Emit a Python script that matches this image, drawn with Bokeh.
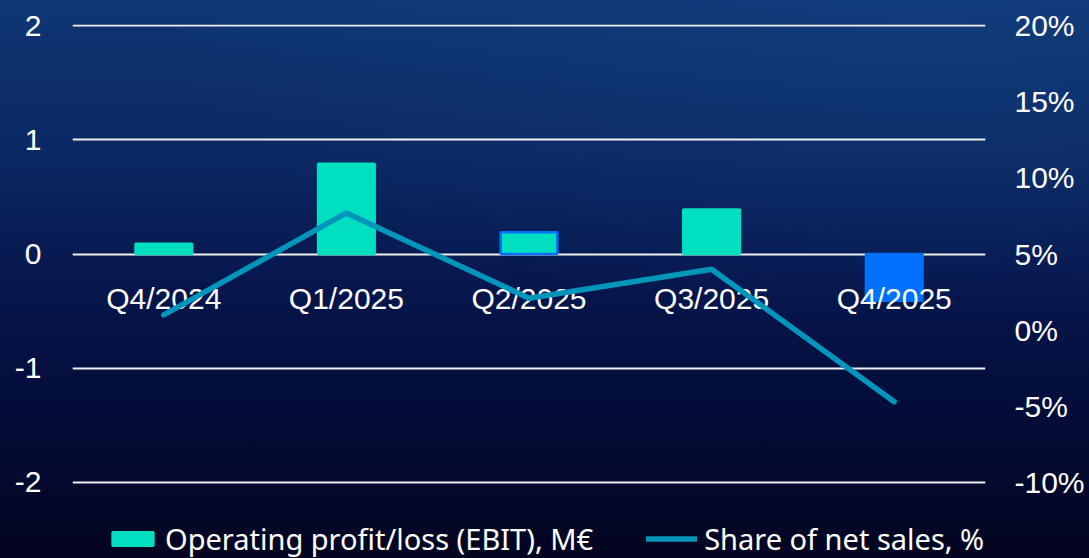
from bokeh.plotting import figure
from bokeh.models import (ColumnDataSource, Range1d, LinearAxis, FixedTicker,
                          CustomJSTickFormatter, Legend, LegendItem)
from bokeh.core.properties import value
from bokeh.embed import file_html
from bokeh.resources import INLINE

# ---- data ----
quarters = ["Q4/2024", "Q1/2025", "Q2/2025", "Q3/2025", "Q4/2025"]
ebit_meur = [0.09, 0.79, 0.19, 0.39, -0.41]
share_pct = [1.0, 7.7, 2.1, 4.0, -4.7]
left_ticks = [-2, -1, 0, 1, 2]
right_ticks = [-10, -5, 0, 5, 10, 15, 20]

TEAL = "#00E0C0"
BLUE = "#0070FF"
LINE = "#0096BC"
bar_fill = [TEAL, TEAL, TEAL, TEAL, BLUE]
bar_edge = [TEAL, TEAL, BLUE, TEAL, BLUE]

src = ColumnDataSource(dict(q=quarters, v=ebit_meur, fill=bar_fill, edge=bar_edge,
                            zero=[0] * len(quarters)))
lsrc = ColumnDataSource(dict(q=quarters, s=share_pct))

TICK_FONT = "Liberation Sans"
TICK_SIZE = "30px"

# the frame runs down to the bottom of the canvas so the legend can sit inside it
Y_LO, Y_HI = -2.666, 2.01
p = figure(x_range=quarters, y_range=Range1d(Y_LO, Y_HI), width=1089, height=558,
           output_backend="svg", toolbar_location=None,
           min_border_left=72, min_border_right=104, min_border_top=24,
           min_border_bottom=0)
p.styles = {"background": "radial-gradient(ellipse 70% 60% at 85% 0%, rgba(22,72,140,0.35), rgba(0,0,0,0)),"
                          "linear-gradient(to bottom, #0f3674 0%, #0b2862 28%, #06164c 52%, #040c38 75%, #030520 100%)"}
p.background_fill_color = None
p.border_fill_color = None
p.outline_line_color = None

p.extra_y_ranges = {"pct": Range1d(5 + 7.5 * Y_LO, 5 + 7.5 * Y_HI)}

# left axis
p.yaxis.ticker = FixedTicker(ticks=left_ticks)
p.yaxis.formatter = CustomJSTickFormatter(code="return String(tick);")
p.yaxis.axis_line_color = None
p.yaxis.major_tick_line_color = None
p.yaxis.minor_tick_line_color = None
p.yaxis.major_label_text_color = "white"
p.yaxis.major_label_text_font = TICK_FONT
p.yaxis.major_label_text_font_size = TICK_SIZE
p.yaxis.major_label_standoff = 25

# right axis
ra = LinearAxis(y_range_name="pct", ticker=FixedTicker(ticks=right_ticks),
                formatter=CustomJSTickFormatter(code="return String(tick) + '%';"))
ra.axis_line_color = None
ra.major_tick_line_color = None
ra.minor_tick_line_color = None
ra.major_label_text_color = "white"
ra.major_label_text_font = TICK_FONT
ra.major_label_text_font_size = TICK_SIZE
ra.major_label_standoff = 23
p.add_layout(ra, "right")

p.xaxis.visible = False
p.xgrid.grid_line_color = None
p.ygrid.grid_line_color = "#F0F0F0"
p.ygrid.grid_line_width = 2

bars = p.vbar(x="q", top="v", width=0.31, source=src, fill_color="fill",
              line_color="edge", line_width=2.5)

# category labels sitting just under the zero line
p.text(x="q", y="zero", text="q", source=src, y_offset=44, text_align="center",
       text_baseline="middle", text_color="white", text_font=value(TICK_FONT),
       text_font_size=TICK_SIZE)

ln = p.line(x="q", y="s", source=lsrc, y_range_name="pct", line_color=LINE,
            line_width=5.5, line_cap="round", line_join="round")

legend = Legend(items=[LegendItem(label="Operating profit/loss (EBIT), M€", renderers=[bars], index=0),
                       LegendItem(label="Share of net sales, %", renderers=[ln])],
                orientation="horizontal", location=(35, 0),
                background_fill_alpha=0, border_line_color=None,
                label_text_color="white", label_text_font="Noto Sans",
                label_text_font_size="29px", glyph_width=51, glyph_height=17,
                label_standoff=7, spacing=53, padding=0, margin=0)
p.add_layout(legend, "center")

open("out.html", "w").write(file_html(p, INLINE))
